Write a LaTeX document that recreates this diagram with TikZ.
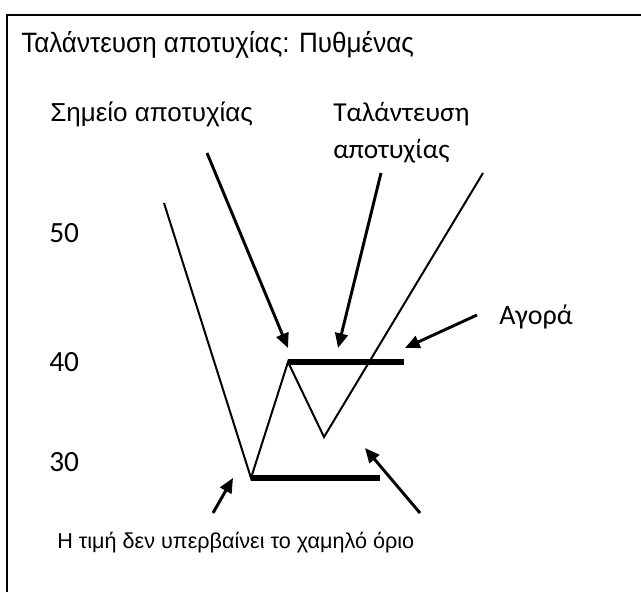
\documentclass[tikz,border=0pt]{standalone}
\usepackage{fontspec}
\setmainfont{Liberation Sans}
\newfontfamily\calibrifont{Carlito}
\usetikzlibrary{arrows.meta, positioning}

\begin{document}
\begin{tikzpicture}[
    x=0.75pt, y=-0.75pt,
    price/.style={line width=1.5pt},
    bar/.style={line width=3.8pt},
    callout/.style={line width=2.2pt, -{Triangle[length=11pt, width=9.5pt]}},
    arial/.style={inner sep=0pt, anchor=base west, font=\fontsize{19.5}{23}\selectfont},
    calib/.style={inner sep=0pt, anchor=base west, font=\calibrifont\fontsize{22}{27.75}\selectfont},
]
\useasboundingbox (0,0) rectangle (641,592);

% frame (cut off at right and bottom)
\draw[line width=1.5pt] (7,592) -- (7,15) -- (641,15);

% title
\node[arial, font=\fontsize{21}{25}\selectfont] (title) at (21,53) {\scalebox{0.93}[1]{Ταλάντευση αποτυχίας: Πυθμένας}};

% price levels
\node[calib] (p50) at (49,242) {50};
\node[calib] (p40) at (49,371) {40};
\node[calib] (p30) at (49,471) {30};

% price path
\coordinate (start) at (164,203);
\coordinate (low) at (251,478);
\coordinate (peak) at (288,362);
\coordinate (dip) at (324,437);
\coordinate (rise) at (483,173);
\coordinate (peakend) at (404,362);
\coordinate (lowend) at (380,478);
\draw[price, line join=miter] (start) -- (low) -- (peak) -- (dip) -- (rise);
\draw[bar] (peak) -- (peakend);
\draw[bar] (low) -- (lowend);

% labels
\node[arial] (failpt) at (50,121) {Σημείο αποτυχίας};
\node[calib, align=left, font=\calibrifont\fontsize{20.5}{27.75}\selectfont] (swing) at (333,158) {Ταλάντευση\\αποτυχίας};
\node[calib, font=\calibrifont\fontsize{21}{26}\selectfont] (buy) at (499,324) {Αγορά};
\node[arial, font=\fontsize{16.2}{20}\selectfont] (note) at (57,548) {Η τιμή δεν υπερβαίνει το χαμηλό όριο};

% callout arrows
\coordinate (failtail) at (207,153);
\coordinate (failtip) at (288,348);
\coordinate (swingtail) at (381,173);
\coordinate (swingtip) at (338,348);
\coordinate (buytail) at (477,315);
\coordinate (buytip) at (405,348);
\coordinate (lowtail) at (213,513);
\coordinate (lowtip) at (233,478);
\coordinate (notetail) at (420,513);
\coordinate (notetip) at (365,448);
\draw[callout] (failtail) -- (failtip);
\draw[callout] (swingtail) -- (swingtip);
\draw[callout] (buytail) -- (buytip);
\draw[callout] (lowtail) -- (lowtip);
\draw[callout] (notetail) -- (notetip);

\end{tikzpicture}
\end{document}
